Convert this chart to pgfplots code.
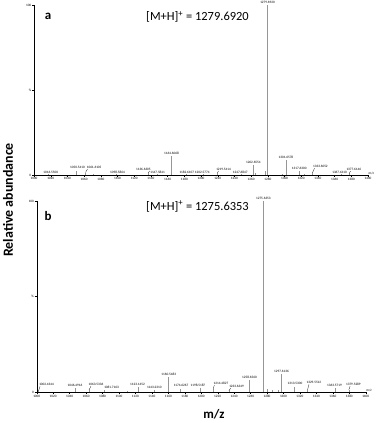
\documentclass[border=0pt]{standalone}
\usepackage{fontspec}
\setmainfont{Carlito}
\usepackage{pgfplots}
\pgfplotsset{compat=1.18}
\definecolor{peak}{RGB}{150,150,150}
\newcommand{\tinyfont}{\fontsize{3.4}{3.8}\selectfont}
\pgfplotsset{
  ms/.style={
    scale only axis, clip=false,
    xmin=1000, xmax=1400, ymin=0, ymax=100,
    axis x line*=bottom, axis y line*=left,
    x axis line style={black, line width=1pt, -},
    y axis line style={black, line width=0.4pt, -},
    xtick={1000,1020,...,1400}, minor x tick num=1,
    ytick={0,50,100}, yticklabels={0,\%,100},
    tick align=outside, tick style={black, line width=0.3pt},
    major tick length=2bp, minor tick length=1.2bp,
    ticklabel style={font=\tinyfont, inner sep=0.6pt},
    /pgf/number format/assume math mode=true,
    /pgf/number format/1000 sep={},
    unbounded coords=jump,
  },
  peaks/.style={ycomb, color=peak, line width=0.6pt, mark=none},
  labels/.style={draw=none, mark=none, point meta=explicit symbolic,
    nodes near coords, nodes near coords align={center},
    nodes near coords style={font=\tinyfont, text=black, inner sep=0pt, anchor=south}},
  leaders/.style={black, line width=0.25pt, mark=none},
}
\begin{document}
\begin{tikzpicture}
\useasboundingbox (0,0) rectangle (376bp,-423bp);

% panel a
\begin{axis}[ms, at={(34bp,-175bp)}, anchor=south west, width=334bp, height=170bp]
\addplot[peaks] coordinates {
  (1016.55,0.7) (1050.541,2.6) (1061.6105,1.4) (1098.5864,0.6) (1136.6305,1.2)
  (1147.5841,0.6) (1164.6068,11.4) (1182.6107,0.6) (1202.5774,0.6) (1219.5414,1.2)
  (1247.6847,0.6) (1262.6554,5.9) (1277.0,2.5) (1279.692,100) (1301.6578,8.8)
  (1317.63,2.4) (1333.6052,1.5) (1367.611,0.6) (1377.6146,1.0)
  (1265.6,1.0) (1297.6,0.8) (1323.6,0.6) (1070.6,0.8)
};
\addplot[leaders] coordinates {
  (1061.6105,1.4) (1064,3.5) (1100,nan)
  (1136.6305,1.2) (1138.5,2.4) (1150,nan)
  (1219.5414,1.2) (1221,2.4) (1230,nan)
  (1333.6052,1.5) (1336,4.0) (1350,nan)
  (1377.6146,1.0) (1379,2.3)
};
\addplot[labels] coordinates {
  (1020,1.0)[1016.5500] (1052,3.6)[1050.5410] (1072,3.6)[1061.6105]
  (1100,0.9)[1098.5864] (1131,2.5)[1136.6305] (1148,0.9)[1147.5841]
  (1164.6,12.1)[1164.6068] (1183,0.9)[1182.6107] (1201.5,0.9)[1202.5774]
  (1227,2.5)[1219.5414] (1247,0.9)[1247.6847] (1262.7,6.6)[1262.6554]
  (1279.7,100.9)[1279.6920] (1301.7,9.5)[1301.6578] (1317.6,3.1)[1317.6300]
  (1343,4.2)[1333.6052] (1366,0.9)[1367.6110] (1383,2.4)[1377.6146]
};
\node[font=\tinyfont, anchor=south west, inner sep=0.5pt] at (axis cs:1400,0) {m/z};
\end{axis}

% panel b
\begin{axis}[ms, at={(36.7bp,-392bp)}, anchor=south west, width=329bp, height=191bp]
\addplot[peaks] coordinates {
  (1002.4344,0.8) (1046.4916,2.0) (1063.5336,1.0) (1081.7163,0.8) (1123.1452,2.5)
  (1143.231,1.0) (1160.5483,8.0) (1174.6267,1.8) (1198.5187,2.2) (1214.4827,1.5)
  (1233.6349,0.8) (1258.656,6.1) (1275.6353,100) (1297.6136,9.4) (1313.53,2.8)
  (1329.5512,1.5) (1363.5719,2.2) (1379.5289,1.2)
  (1280.6,1.5) (1293.6,1.0) (1286.6,0.8) (1110.6,0.6)
};
\addplot[leaders] coordinates {
  (1002.4344,0.8) (1004,2.9) (1020,nan)
  (1063.5336,1.0) (1066,3.1) (1075,nan)
  (1214.4827,1.5) (1216,3.6) (1225,nan)
  (1233.6349,0.8) (1236,2.0) (1245,nan)
  (1329.5512,1.5) (1331,4.0) (1340,nan)
  (1379.5289,1.2) (1381,3.0)
};
\addplot[labels] coordinates {
  (1012,3.1)[1002.4344] (1046.5,2.6)[1046.4916] (1072,3.3)[1063.5336]
  (1091,1.6)[1081.7163] (1122.6,3.3)[1123.1452] (1143,1.7)[1143.2310]
  (1160.5,8.6)[1160.5483] (1175.5,2.6)[1174.6267] (1196,2.8)[1198.5187]
  (1224,3.8)[1214.4827] (1243,2.2)[1233.6349] (1258.7,6.7)[1258.6560]
  (1275.6,100.9)[1275.6353] (1297.6,10.0)[1297.6136] (1314,3.9)[1313.5300]
  (1337,4.2)[1329.5512] (1362,2.7)[1363.5719] (1385,3.1)[1379.5289]
};
\node[font=\tinyfont, anchor=south west, inner sep=0.5pt] at (axis cs:1400,0) {m/z};
\end{axis}

% panel texts
\node[font=\bfseries\fontsize{13}{15}\selectfont] at (48bp,-16bp) {a};
\node[font=\bfseries\fontsize{13}{15}\selectfont] at (48bp,-216bp) {b};
\node[font=\fontsize{12.5}{14}\selectfont, anchor=west, inner sep=0pt] at (146bp,-17bp) {[M+H]\textsuperscript{+} = 1279.6920};
\node[font=\fontsize{12.5}{14}\selectfont, anchor=west, inner sep=0pt] at (146bp,-206.5bp) {[M+H]\textsuperscript{+} = 1275.6353};
\node[rotate=90, font=\bfseries\fontsize{14}{16}\selectfont] at (8bp,-200bp) {Relative abundance};
\node[font=\bfseries\fontsize{13}{15}\selectfont] at (214bp,-414bp) {m/z};
\end{tikzpicture}
\end{document}
